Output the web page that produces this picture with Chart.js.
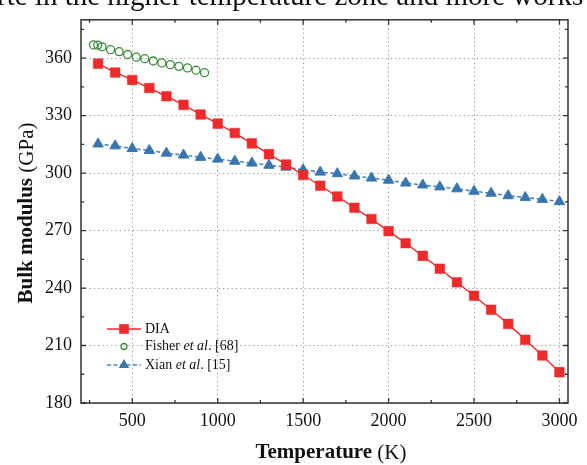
<!DOCTYPE html>
<html>
<head>
<meta charset="utf-8">
<script src="https://cdn.jsdelivr.net/npm/chart.js@4.4.0/dist/chart.umd.min.js"></script>
<style>
  html, body { margin: 0; padding: 0; background: #fff; }
  #wrap { position: relative; width: 587px; height: 465px; overflow: hidden; }
  #myChart { position: absolute; left: 0; top: 0; }
  #cap { position: absolute; left: -3px; top: -19px; font: 29px "Liberation Serif", serif; line-height: 29px; white-space: nowrap; color: #111; }
</style>
</head>
<body>
<div id="wrap">
  <canvas id="myChart" width="587" height="465"></canvas>
  <div id="cap">rte in the higher temperature zone and more works</div>
</div>
<script>
// DIA (this work)
const tempDIA = [300, 400, 500, 600, 700, 800, 900, 1000, 1100, 1200, 1300, 1400, 1500, 1600,
    1700, 1800, 1900, 2000, 2100, 2200, 2300, 2400, 2500, 2600, 2700, 2800, 2900, 3000];
const bulkDIA = [357.1, 352.5, 348.6, 344.4, 340.1, 335.6, 330.6, 325.8, 320.9, 315.5, 309.9, 304.5, 299.0, 293.4,
    287.8, 281.9, 276.0, 269.7, 263.4, 256.8, 250.1, 243.0, 236.0, 228.7, 221.3, 213.0, 204.8, 196.1];

// Fisher et al. [68]
const tempFisher = [273, 298, 323, 373, 423, 473, 523, 573, 623, 673, 723, 773, 823, 873, 923];
const bulkFisher = [366.9, 366.8, 365.9, 364.4, 363.4, 361.9, 360.5, 359.7, 358.5, 357.5, 356.6, 355.7, 354.9, 353.7, 352.4];

// Xian et al. [15]
const tempXian = [300, 400, 500, 600, 700, 800, 900, 1000, 1100, 1200, 1300, 1400, 1500, 1600,
    1700, 1800, 1900, 2000, 2100, 2200, 2300, 2400, 2500, 2600, 2700, 2800, 2900, 3000];
const bulkXian = [315.2, 314.2, 312.8, 311.8, 310.4, 309.4, 308.2, 307.3, 306.2, 305.2, 304.1, 303.1, 301.7, 300.5,
    299.7, 298.5, 297.4, 296.3, 294.8, 293.8, 292.8, 291.8, 290.5, 289.5, 288.2, 287.3, 286.3, 285.1];

const xTicks = [500, 1000, 1500, 2000, 2500, 3000];
const yTicks = [180, 210, 240, 270, 300, 330, 360];

const SERIF = '"Liberation Serif", "Times New Roman", serif';
const RED = '#ee2a2a';
const GREEN = '#3d8b3d';
const BLUE = '#3a76ad';

function toPoints(xs, ys) {
    return xs.map((x, i) => ({ x: x, y: ys[i] }));
}

// draw text made of several runs with different fonts
function drawRuns(ctx, runs, x, y, align) {
    let w = 0;
    runs.forEach(r => { ctx.font = r.f; w += ctx.measureText(r.t).width; });
    let cx = align === 'center' ? x - w / 2 : x;
    ctx.textAlign = 'left';
    runs.forEach(r => {
        ctx.font = r.f;
        ctx.fillText(r.t, cx, y);
        cx += ctx.measureText(r.t).width;
    });
}

// frame + inward ticks on all four sides
const framePlugin = {
    id: 'frame',
    afterDatasetsDraw(chart) {
        const ctx = chart.ctx;
        const a = chart.chartArea;
        const xs = chart.scales.x, ys = chart.scales.y;
        ctx.save();
        ctx.strokeStyle = '#333';
        ctx.lineWidth = 1.5;
        ctx.strokeRect(a.left, a.top, a.right - a.left, a.bottom - a.top);
        ctx.lineWidth = 1.3;
        ctx.beginPath();
        const xt = [];
        xTicks.forEach(v => xt.push([v, 5]));
        for (let v = 250; v < 3050; v += 500) xt.push([v, 3]);
        xt.forEach(([v, len]) => {
            const px = xs.getPixelForValue(v);
            ctx.moveTo(px, a.bottom); ctx.lineTo(px, a.bottom - len);
            ctx.moveTo(px, a.top); ctx.lineTo(px, a.top + len);
        });
        const yt = [];
        yTicks.forEach(v => yt.push([v, 5]));
        for (let v = 195; v < 380; v += 30) yt.push([v, 3]);
        yt.forEach(([v, len]) => {
            const py = ys.getPixelForValue(v);
            ctx.moveTo(a.left, py); ctx.lineTo(a.left + len, py);
            ctx.moveTo(a.right, py); ctx.lineTo(a.right - len, py);
        });
        ctx.stroke();
        ctx.restore();
    },
    afterDraw(chart) {
        const ctx = chart.ctx;
        ctx.save();
        ctx.fillStyle = '#111';
        ctx.textBaseline = 'middle';

        // axis titles
        drawRuns(ctx, [
            { t: 'Temperature ', f: 'bold 21px ' + SERIF },
            { t: '(K)', f: '21px ' + SERIF }
        ], 331, 453, 'center');
        ctx.save();
        ctx.translate(27, 213);
        ctx.rotate(-Math.PI / 2);
        drawRuns(ctx, [
            { t: 'Bulk modulus ', f: 'bold 21px ' + SERIF },
            { t: '(GPa)', f: '21px ' + SERIF }
        ], 0, 0, 'center');
        ctx.restore();

        // legend
        const lx0 = 107, lx1 = 141, mx = 124, tx = 145;
        const rows = [329, 346.5, 365];
        ctx.lineWidth = 1.4;
        ctx.strokeStyle = RED;
        ctx.beginPath(); ctx.moveTo(lx0, rows[0]); ctx.lineTo(lx1, rows[0]); ctx.stroke();
        ctx.fillStyle = RED;
        ctx.fillRect(mx - 4.8, rows[0] - 4.8, 9.6, 9.6);

        ctx.strokeStyle = GREEN;
        ctx.lineWidth = 1.3;
        ctx.beginPath(); ctx.arc(mx, rows[1], 3, 0, Math.PI * 2); ctx.stroke();

        ctx.strokeStyle = '#4d87bd';
        ctx.lineWidth = 1.6;
        ctx.setLineDash([4, 2.5]);
        ctx.beginPath(); ctx.moveTo(lx0, rows[2]); ctx.lineTo(lx1, rows[2]); ctx.stroke();
        ctx.setLineDash([]);
        ctx.fillStyle = BLUE;
        const r = 6;
        ctx.beginPath();
        ctx.moveTo(mx, rows[2] - r);
        ctx.lineTo(mx + r * Math.sin(2 * Math.PI / 3), rows[2] - r * Math.cos(2 * Math.PI / 3));
        ctx.lineTo(mx + r * Math.sin(4 * Math.PI / 3), rows[2] - r * Math.cos(4 * Math.PI / 3));
        ctx.closePath();
        ctx.fill();

        ctx.fillStyle = '#111';
        drawRuns(ctx, [{ t: 'DIA', f: '14px ' + SERIF }], tx, rows[0], 'left');
        drawRuns(ctx, [
            { t: 'Fisher ', f: '14px ' + SERIF },
            { t: 'et al', f: 'italic 14px ' + SERIF },
            { t: '. [68]', f: '14px ' + SERIF }
        ], tx, rows[1], 'left');
        drawRuns(ctx, [
            { t: 'Xian ', f: '14px ' + SERIF },
            { t: 'et al', f: 'italic 14px ' + SERIF },
            { t: '. [15]', f: '14px ' + SERIF }
        ], tx, rows[2], 'left');
        ctx.restore();
    }
};

const ctx = document.getElementById('myChart');

var myChart = new Chart(ctx, {
    type: 'line',
    data: {
        datasets: [
            {
                label: 'DIA',
                data: toPoints(tempDIA, bulkDIA),
                borderColor: RED,
                borderWidth: 1.4,
                pointStyle: 'rect',
                pointRadius: 6.8,
                pointBackgroundColor: RED,
                pointBorderColor: 'rgba(238,42,42,0.5)',
                pointBorderWidth: 1
            },
            {
                label: 'Fisher et al. [68]',
                data: toPoints(tempFisher, bulkFisher),
                showLine: false,
                pointStyle: 'circle',
                pointRadius: 4,
                pointBackgroundColor: 'rgba(255,255,255,0)',
                pointBorderColor: GREEN,
                pointBorderWidth: 1.3
            },
            {
                label: 'Xian et al. [15]',
                data: toPoints(tempXian, bulkXian),
                borderColor: '#4d87bd',
                borderWidth: 1.6,
                borderDash: [4, 2.5],
                pointStyle: 'triangle',
                pointRadius: 6,
                pointBackgroundColor: BLUE,
                pointBorderColor: BLUE,
                pointBorderWidth: 1
            }
        ]
    },
    options: {
        responsive: false,
        animation: false,
        layout: { padding: { left: 0, top: 11, right: 19, bottom: 0 } },
        plugins: {
            legend: { display: false },
            tooltip: { enabled: false }
        },
        scales: {
            x: {
                type: 'linear',
                min: 200,
                max: 3050,
                afterBuildTicks: s => { s.ticks = xTicks.map(v => ({ value: v })); },
                afterFit: s => { s.height = 62; },
                grid: { color: '#9a9a9a', lineWidth: 1, drawTicks: false },
                border: { display: false, dash: [1.3, 3] },
                ticks: { color: '#111', font: { family: SERIF, size: 18 }, padding: 7, maxRotation: 0, autoSkip: false,
                    callback: v => String(v) }
            },
            y: {
                min: 180,
                max: 380,
                afterBuildTicks: s => { s.ticks = yTicks.map(v => ({ value: v })); },
                afterFit: s => { s.width = 81; },
                grid: { color: '#9a9a9a', lineWidth: 1, drawTicks: false },
                border: { display: false, dash: [1.3, 3] },
                ticks: { color: '#111', font: { family: SERIF, size: 18 }, padding: 9,
                    callback: v => String(v) }
            }
        }
    },
    plugins: [framePlugin]
});
</script>
</body>
</html>
